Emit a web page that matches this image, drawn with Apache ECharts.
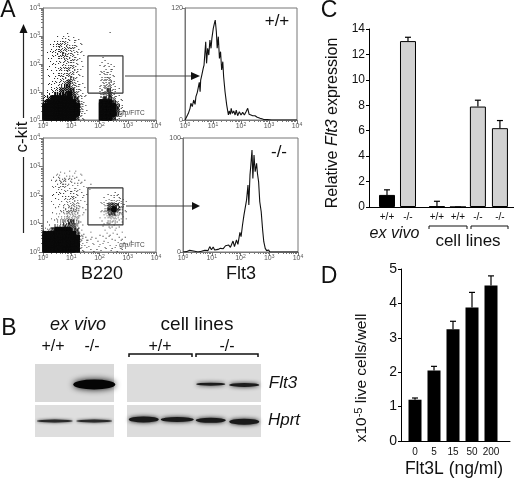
<!DOCTYPE html>
<html><head><meta charset="utf-8">
<style>html,body{margin:0;padding:0;background:#fff}#c{width:514px;height:479px}</style>
<script src="https://cdn.jsdelivr.net/npm/echarts@6/dist/echarts.min.js"></script></head>
<body><div id="c"></div>
<script>
// Panel A: estimated dot density (0-9); top row first, log decades 0-4 over 28 cells
const densityWT = [
"0000000000000000000000000000","0000000000000000000000000000","0000000000000000000000000000",
"0000000000000000000000000000","0000000000000000000000000000","0000000000000000000000000000",
"0000001000000000100000000000","0001122110000000000000000000","0012332211000000000000000000",
"0123433321000000000000000000","0123443321000000000000000000","0123443321100000000000000000",
"0122343321000010000000000000","0112233321000011100000000000","0112233321000012210000000000",
"0112334321000012210000000000","0112334321000023210000000000","0112334421000023310000000000",
"0122345421000023420000000000","0122455431100024420000000000","0133556532000034531000000000",
"1345667542100034531000000000","3577778652100046641100000000","6899999863100078863100000000",
"8999999974100099975200000000","9999999974100099985210000000","9999999973100099975200000000",
"8999999852100078863000000000"];
const densityKO = [
"0000000000000000000000000000","0000000000000000000000000000","0000000000000000000000000000",
"0000000000000000000000000000","0000000000000000000000000000","0000000000000000000000000000",
"0000000000000000000000000000","0000000000000000000000000000","0001111111000000000000000000",
"0012222211000000000000000000","0012332211100000000000000000","0012332221110000000000000000",
"0012222221110000000000000000","0012222221100000111000000000","0011122321100001122100000000",
"0011123321100012333210000000","0011123431100013565310000000","0001133441100013675310000000",
"0011234431100013564310000000","0012234441000012443210000000","0112345541000011332100000000",
"0123455541000011221000000000","2467777651000001111000000000","7999999862110011111100000000",
"9999999973111111111110000000","9999999973211111111111000000","9999999973211111111110000000",
"9999999972111111111100000000"];
const gateWT = [[1.59,0.96],[2.83,0.96],[2.83,2.29],[1.59,2.29],[1.59,0.96]];
const gateKO = [[1.59,0.95],[2.83,0.95],[2.83,2.25],[1.59,2.25],[1.59,0.95]];
// Panel A histograms: [log10 Flt3, counts]
const histWT = [[0,0],[.06,3.6],[.12,7.1],[.18,12.5],[.21,17.9],[.26,14.3],[.31,21.4],[.36,16.8],[.39,25],[.44,29.6],[.48,27.5],[.51,40.3],[.54,30.3],[.56,42.8],[.6,48.2],[.65,55.3],[.68,58.9],[.71,71.4],[.74,83.9],[.77,60.7],[.81,76.8],[.85,69.6],[.89,85.7],[.93,76.8],[.96,87.5],[1.01,98.2],[1.05,103.5],[1.08,107.1],[1.12,94.6],[1.15,76.8],[1.19,89.3],[1.23,66],[1.27,73.2],[1.31,53.6],[1.35,62.5],[1.38,46.4],[1.43,30.3],[1.49,16],[1.55,5.4],[1.58,9.6],[1.62,6.1],[1.65,12.5],[1.69,7.1],[1.74,9.6],[1.79,5.4],[1.83,10.7],[1.88,4.6],[1.94,8.9],[2,5.4],[2.06,8.2],[2.12,5.4],[2.18,8.9],[2.24,12.5],[2.29,6.1],[2.35,7.1],[2.42,4.6],[2.5,4.6],[2.58,2.9],[2.68,1.8],[2.8,.7],[2.94,.4],[3.1,0],[4,0]];
const histKO = [[0,0],[.12,.3],[.23,1.5],[.29,.3],[.41,.6],[.52,0],[.64,.6],[.7,2.3],[.76,1.5],[.87,1.2],[.93,4.7],[.99,2],[1.05,4.4],[1.1,1.8],[1.22,2.3],[1.3,3.2],[1.4,2.9],[1.48,5.5],[1.53,3.8],[1.59,6.1],[1.65,4.1],[1.74,9.6],[1.79,4.7],[1.86,10.5],[1.91,6.7],[1.98,17.2],[2.02,13.4],[2.07,23.7],[2.12,32.4],[2.16,33.9],[2.21,45.5],[2.26,58.7],[2.29,41.2],[2.33,67.5],[2.36,76.2],[2.4,89.4],[2.43,64.5],[2.47,85],[2.51,70.4],[2.56,77.7],[2.59,68.9],[2.63,61.6],[2.67,44.1],[2.72,35.3],[2.77,19.3],[2.81,9],[2.86,3.2],[2.91,1.2],[2.98,1.8],[3.02,0],[4,0]];
// Panel B: [lane, vertical place in panel]
const blotFlt3ExVivo = [[1,.54]];
const blotFlt3Lines = [[2,.53],[3,.55]];
const blotHprtExVivo = [[0,.5],[1,.5]];
const blotHprtLines = [[0,.45],[1,.45],[2,.48],[3,.52]];
// Panel C
const cLabels = ['+/+','-/-','+/+','+/+','-/-','-/-'];
const cLanes = [1,2,3.38,4.38,5.33,6.38];
const cValues = [0.95,13.05,0.05,0,7.9,6.2];
const cUpper = [1.35,13.35,0.45,0,8.4,6.8];
// Panel D
const dLabels = ['0','5','15','50','200'];
const dLanes = [1,2,3,4,5];
const dValues = [1.2,2.05,3.25,3.88,4.52];
const dUpper = [1.25,2.17,3.48,4.32,4.8];

const F = '"Liberation Sans",Arial,sans-serif';
const grid = [], xAxis = [], yAxis = [], series = [];
function addGrid(l,t,w,h,extra){grid.push(Object.assign({left:l,top:t,width:w,height:h,containLabel:false,show:false},extra||{}));return grid.length-1;}
const supRich = {a:{fontSize:7,color:'#555',fontFamily:F},b:{fontSize:5,color:'#555',fontFamily:F,padding:[0,0,4,0]}};
const minorDecades = [];
[0,1,2,3].forEach(d=>[2,3,4,5,6,7,8,9].forEach(k=>minorDecades.push(d+Math.log10(k))));
function decadeAxis(gi,pos){
  return {gridIndex:gi,type:'value',min:0,max:4,interval:1,position:pos,splitLine:{show:false},
    axisLine:{show:true,onZero:false,lineStyle:{color:'#777',width:1}},
    axisTick:{show:true,length:4,lineStyle:{color:'#777',width:1}},
    axisLabel:{show:true,margin:pos==='left'?3:2,rich:supRich,hideOverlap:false,showMinLabel:true,showMaxLabel:true,
      formatter:v=>'{a|10}{b|'+v+'}'}};
}
function minorAxis(gi,pos){
  return {gridIndex:gi,type:'value',min:0,max:4,position:pos,splitLine:{show:false},axisLine:{show:false,onZero:false},
    axisTick:{show:true,length:2,customValues:minorDecades,lineStyle:{color:'#777',width:1}},axisLabel:{show:false}};
}
// Each density digit is shown as that many dots per cell, on a fixed stipple pattern shifted cell by cell.
const dotsPerDigit = [0,1,2,4,6,8,10,12,14,16];
const stippleOrder = [[0,0],[2,2],[2,0],[0,2],[1,1],[3,3],[3,1],[1,3],[1,0],[3,2],[3,0],[1,2],[0,1],[2,3],[2,1],[0,3]];
function densityPanel(rows,gate,l,t,w,h){
  const g1 = addGrid(l,t,w,h,{show:true,borderColor:'#777',borderWidth:1,backgroundColor:'transparent'});
  xAxis.push(decadeAxis(g1,'bottom')); const xi=xAxis.length-1;
  yAxis.push(decadeAxis(g1,'left')); const yi=yAxis.length-1;
  xAxis.push(minorAxis(g1,'bottom')); yAxis.push(minorAxis(g1,'left'));
  const dots=[], nr=rows.length, nc=rows[0].length;
  rows.forEach((r,ry)=>r.split('').forEach((c,cx)=>{
    const shift=(cx*7+ry*11)%16, n=dotsPerDigit[+c];
    for(let k=0;k<n;k++){
      const o=stippleOrder[(k+shift)%16];
      dots.push([(cx+(o[0]+.5)/4)*4/nc,(nr-ry-(o[1]+.5)/4)*4/nr,+c]);
    }
  }));
  series.push({type:'scatter',xAxisIndex:xi,yAxisIndex:yi,data:dots,symbol:'rect',
    symbolSize:v=>v[2]>=7?2.4:v[2]>=5?1.3:0.9,silent:true,animation:false,z:1,
    itemStyle:{color:'#0a0a0a',opacity:1}});
  series.push({type:'line',xAxisIndex:xi,yAxisIndex:yi,data:gate,symbol:'none',z:5,clip:false,lineStyle:{color:'#333',width:1.2},animation:false});
}
function histPanel(data,ymax,l,t,w,h){
  const g = addGrid(l,t,w,h,{show:true,borderColor:'#777',borderWidth:1,backgroundColor:'transparent'});
  xAxis.push(decadeAxis(g,'bottom')); const xi=xAxis.length-1;
  xAxis.push(minorAxis(g,'bottom'));
  yAxis.push({gridIndex:g,type:'value',min:0,max:ymax,interval:ymax,splitLine:{show:false},
    axisLine:{show:true,lineStyle:{color:'#777'}},axisTick:{show:true,length:3,lineStyle:{color:'#777'}},
    axisLabel:{fontSize:7,color:'#555',fontFamily:F,margin:2}});
  series.push({type:'line',xAxisIndex:xi,yAxisIndex:yAxis.length-1,data,symbol:'none',z:5,lineStyle:{color:'#111',width:1.1},animation:false});
}
function blotPanel(bands,lanes,l,t,w,h,bg,bw,bh,col,blur){
  const g = addGrid(l,t,w,h,{show:true,backgroundColor:bg,borderWidth:0});
  xAxis.push({gridIndex:g,type:'value',min:-.5,max:lanes-.5,show:false});
  yAxis.push({gridIndex:g,type:'value',min:0,max:1,inverse:true,show:false});
  series.push({type:'scatter',xAxisIndex:xAxis.length-1,yAxisIndex:yAxis.length-1,data:bands,symbol:'circle',
    symbolSize:(v,p)=>[bw[p.dataIndex],bh[p.dataIndex]],silent:true,animation:false,clip:true,
    itemStyle:{color:col,opacity:1,shadowBlur:blur,shadowColor:col}});
}
function barPanel(lanes,values,upper,labels,ticks,ymax,xmin,xmax,l,t,w,h,bw,colorFn,border,labelSize,yLabelSize,labelMargin){
  const g = addGrid(l,t,w,h);
  xAxis.push({gridIndex:g,type:'value',min:xmin,max:xmax,splitLine:{show:false},
    axisLine:{show:true,onZero:false,lineStyle:{color:'#000',width:1}},axisTick:{show:false},
    axisLabel:{show:true,customValues:lanes,fontSize:labelSize,color:'#111',fontFamily:F,margin:labelMargin,
      formatter:v=>labels[lanes.indexOf(v)]}});
  yAxis.push({gridIndex:g,type:'value',min:0,max:ymax,interval:ticks,splitLine:{show:false},
    axisLine:{show:true,lineStyle:{color:'#000',width:1}},axisTick:{show:true,length:3,lineStyle:{color:'#000'}},
    axisLabel:{fontSize:yLabelSize,color:'#111',fontFamily:F,margin:4}});
  const xi=xAxis.length-1, yi=yAxis.length-1;
  series.push({type:'bar',xAxisIndex:xi,yAxisIndex:yi,barWidth:bw,animation:false,silent:true,
    data:lanes.map((x,i)=>({value:[x,values[i]],itemStyle:{color:colorFn(i),borderColor:'#000',borderWidth:border}}))});
  series.push({type:'custom',xAxisIndex:xi,yAxisIndex:yi,silent:true,animation:false,z:1,
    data:lanes.map((x,i)=>[x,values[i],upper[i]]),
    renderItem:(p,api)=>{
      const a=api.coord([api.value(0),api.value(1)]),b=api.coord([api.value(0),api.value(2)]);
      const s={stroke:'#000',lineWidth:1.2};
      return {type:'group',children:[
        {type:'line',shape:{x1:a[0],y1:a[1],x2:b[0],y2:b[1]},style:s},
        {type:'line',shape:{x1:a[0]-3,y1:b[1],x2:a[0]+3,y2:b[1]},style:s}]};
    }});
}
densityPanel(densityWT,gateWT,43,8,113,112);
densityPanel(densityKO,gateKO,43,138,113,114);
histPanel(histWT,120,185,8,112,112);
histPanel(histKO,100,183,138,115,114);
blotPanel(blotFlt3ExVivo,2,35,364,79,38,'#d9d9d9',[42],[10],'#050505',6);
blotPanel(blotFlt3Lines,4,127,364,134,38,'#dcdcdc',[29,30],[3,4],'#1c1c1c',4);
blotPanel(blotHprtExVivo,2,35,405,79,32,'#dedede',[36,36],[3,3],'#2a2a2a',3);
blotPanel(blotHprtLines,4,127,405,134,32,'#dcdcdc',[30,33,30,30],[6,5,5,6],'#1a1a1a',4);
barPanel(cLanes,cValues,cUpper,cLabels,2,14,.143,7.05,369,29,145,178,16,i=>i===0?'#000':'#d2d2d2',1,10,12,5);
barPanel(dLanes,dValues,dUpper,dLabels,1,5,.263,6,401,269,109,172,13,()=>'#000',0,10,14,6);

const txt=(text,x,y,size,o)=>Object.assign({type:'text',x,y,z:50,silent:true,
  style:Object.assign({text,fontSize:size,fontFamily:F,fill:'#111',align:'center',verticalAlign:'middle'},(o&&o.style)||{})},o&&o.el||{});
const seg=(x1,y1,x2,y2,w,c)=>({type:'line',z:50,silent:true,shape:{x1,y1,x2,y2},style:{stroke:c||'#222',lineWidth:w||1}});
const tri=(pts,c)=>({type:'polygon',z:50,silent:true,shape:{points:pts},style:{fill:c||'#111'}});
const bracket=(x1,x2,y,d,w)=>({type:'polyline',z:50,silent:true,shape:{points:[[x1,y+d],[x1,y],[x2,y],[x2,y+d]]},style:{stroke:'#111',fill:null,lineWidth:w}});
const it={style:{fontStyle:'italic'}};
const graphic=[
 txt('A',8,11,23),txt('B',9,329,23),txt('C',329,11,23),txt('D',329,277,23),
 txt('c-kit',22,137,17,{el:{rotation:Math.PI/2}}),
 seg(23.5,32,23.5,118,1.2),tri([[23.5,24],[19.5,33],[27.5,33]]),seg(23.5,157,23.5,233,1.2),
 seg(125,76,193,76,1.2,'#444'),tri([[200,76],[191,72],[191,80]]),
 seg(126,206,193,206,1.2,'#444'),tri([[200,206],[192,202],[192,210]]),
 txt('+/+',277,21,17),txt('-/-',279,152,17),
 txt('gfp/FITC',132,113,6.5,{style:{fill:'#444'}}),txt('gfp/FITC',132,245,6.5,{style:{fill:'#444'}}),
 txt('B220',102,274,18),txt('Flt3',241,274,18),
 txt('ex vivo',78,325,18,it),txt('cell lines',197,325,19),
 txt('+/+',53,347,16),txt('-/-',92,347,16),txt('+/+',160,347,16),txt('-/-',227,347,16),
 bracket(129,192,354,3,1.5),bracket(196,258,354,3,1.5),
 txt('Flt3',283,383,17,it),txt('Hprt',284,420,17,it),
 {type:'text',x:333,y:123,z:50,silent:true,rotation:Math.PI/2,style:{text:'{n|Relative }{i|Flt3}{n| expression}',align:'center',verticalAlign:'middle',
   rich:{n:{fontSize:16,fontFamily:F,fill:'#111'},i:{fontSize:16,fontFamily:F,fontStyle:'italic',fill:'#111'}}}},
 txt('ex vivo',394.5,234,16,it),txt('cell lines',468,241,17),
 bracket(429,467,226,3,1),bracket(471,508,226,3,1),
 {type:'text',x:362,y:378,z:50,silent:true,rotation:Math.PI/2,style:{text:'{n|x10}{s|-5}{n| live cells/well}',align:'center',verticalAlign:'middle',
   rich:{n:{fontSize:15.5,fontFamily:F,fill:'#111'},s:{fontSize:11,fontFamily:F,fill:'#111',padding:[0,0,7,0]}}}},
 txt('Flt3L (ng/ml)',454,469,17.5)
];
const chart=echarts.init(document.getElementById('c'),null,{renderer:'canvas'});
chart.setOption({animation:false,backgroundColor:'#fff',grid,xAxis,yAxis,series,graphic});
</script></body></html>
